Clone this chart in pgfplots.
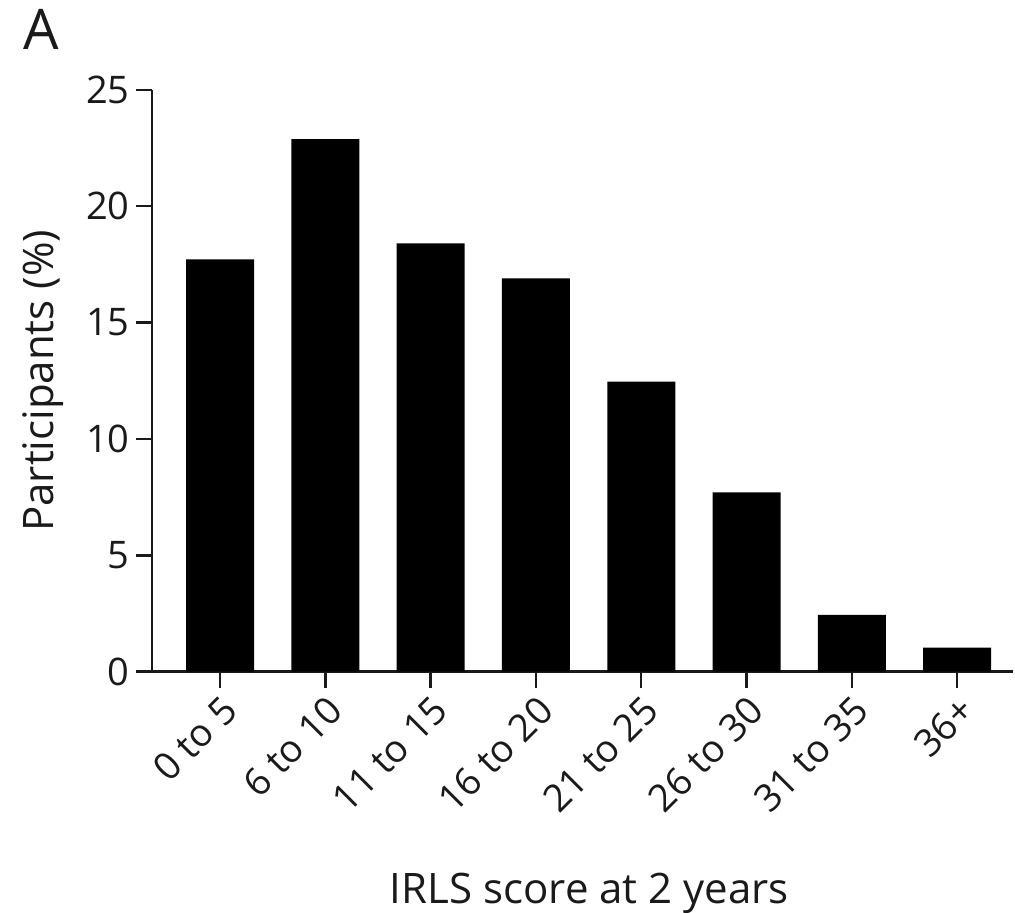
\documentclass[border=0pt]{standalone}
\usepackage{pgfplots}
\pgfplotsset{compat=1.18}
\usepackage{fontspec}
\setmainfont{Open Sans}
\definecolor{txt}{HTML}{1A1A1A}
\begin{document}
\begin{tikzpicture}
\begin{axis}[
  scale only axis,
  width=430.5pt, height=290.9pt,
  xmin=-0.646, xmax=7.53,
  ymin=0, ymax=25,
  axis x line*=bottom, axis y line*=left,
  axis line style={line width=1.2pt, txt},
  every tick/.style={line width=1.2pt, txt},
  tick align=outside,
  major tick length=8pt,
  xtick=data,
  xticklabels={0 to 5,6 to 10,11 to 15,16 to 20,21 to 25,26 to 30,31 to 35,36+},
  ytick={0,5,10,15,20,25},
  /pgf/number format/assume math mode=true,
  tick label style={font=\fontsize{19}{22}\selectfont, text=txt},
  xticklabel style={rotate=45, anchor=north east, inner sep=2pt},
  yticklabel style={inner sep=3pt},
  xlabel={IRLS score at 2 years},
  ylabel={Participants (\%)},
  label style={font=\fontsize{21}{25}\selectfont, text=txt},
  xlabel style={at={(axis description cs:0.508,-0.398)}, anchor=base},
  ylabel style={at={(axis description cs:-0.127,0.5)}, anchor=center, rotate=0},
  clip=false,
]
\addplot[ybar, bar width=34pt, fill=black, draw=none] coordinates {
  (0,17.72) (1,22.88) (2,18.41) (3,16.9) (4,12.46) (5,7.71) (6,2.44) (7,1.03)
};
\coordinate (bl) at (rel axis cs:0,0);
\node[anchor=base west, font=\fontsize{28}{32}\selectfont, text=txt] at (axis description cs:-0.158,1.069) {A};
\end{axis}
\pgfresetboundingbox
\path (bl) ++(-76pt,-120.65pt) rectangle ++(507.5pt,456.5pt);
\end{tikzpicture}
\end{document}
